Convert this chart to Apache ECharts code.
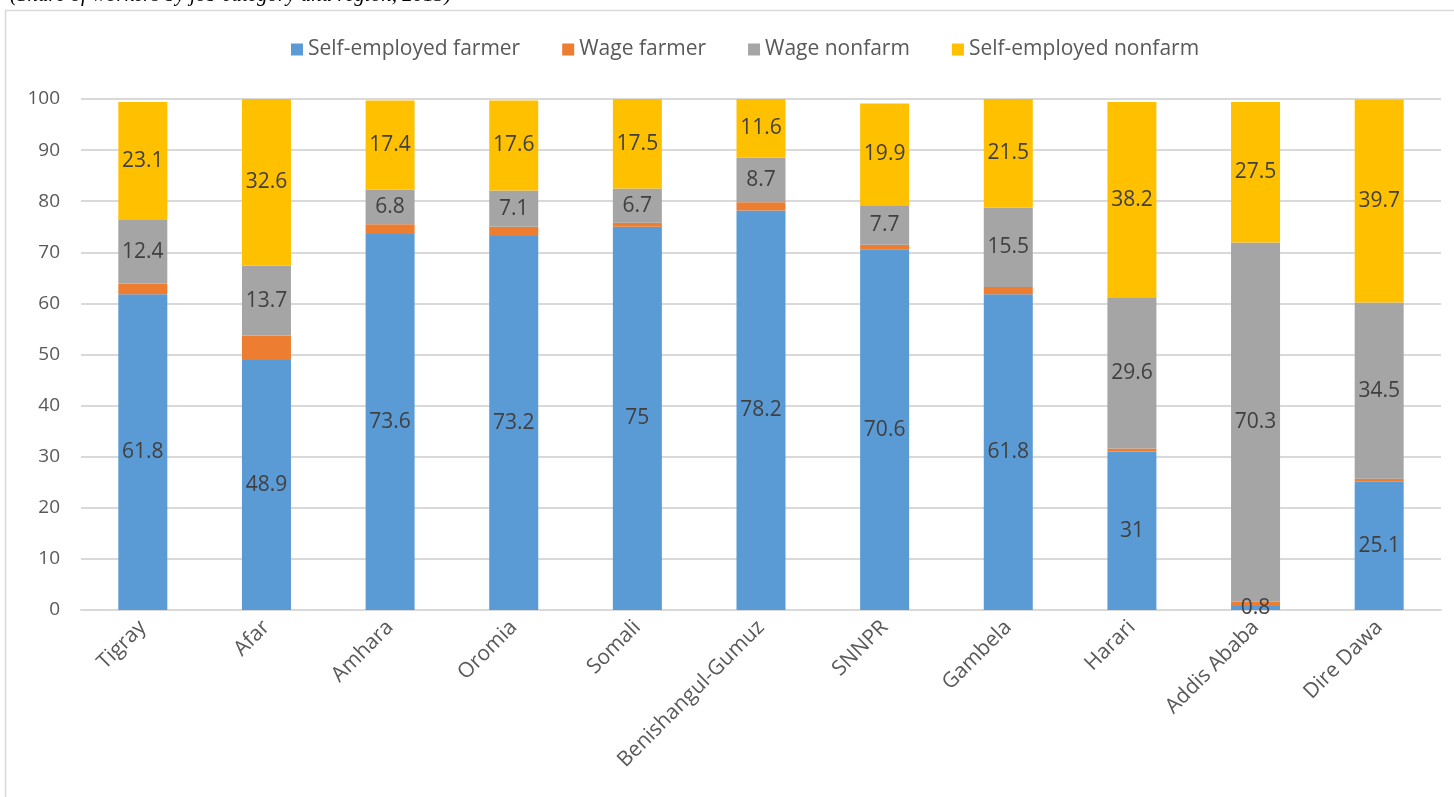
<!DOCTYPE html>
<html>
<head>
<meta charset="utf-8">
<script src="https://cdn.jsdelivr.net/npm/echarts@6/dist/echarts.min.js"></script>
<style>
  html, body { margin: 0; padding: 0; background: #ffffff; }
  #chart { width: 1454px; height: 797px; }
</style>
</head>
<body>
<div id="chart"></div>
<script>
// Share of workers by job category and region, 2015 (percent)
const regions = ['Tigray', 'Afar', 'Amhara', 'Oromia', 'Somali', 'Benishangul-Gumuz',
  'SNNPR', 'Gambela', 'Harari', 'Addis Ababa', 'Dire Dawa'];
const selfEmployedFarmer = [61.8, 48.9, 73.6, 73.2, 75, 78.2, 70.6, 61.8, 31, 0.8, 25.1];
const wageFarmer = [2.1, 4.8, 1.9, 1.8, 0.8, 1.6, 0.9, 1.4, 0.6, 0.8, 0.6];
const wageNonfarm = [12.4, 13.7, 6.8, 7.1, 6.7, 8.7, 7.7, 15.5, 29.6, 70.3, 34.5];
const selfEmployedNonfarm = [23.1, 32.6, 17.4, 17.6, 17.5, 11.6, 19.9, 21.5, 38.2, 27.5, 39.7];
const seriesNames = ['Self-employed farmer', 'Wage farmer', 'Wage nonfarm', 'Self-employed nonfarm'];
const yTicks = [0, 100, 10];

const FONT = '"Open Sans", "Noto Sans", sans-serif';
const colors = ['#5B9BD5', '#ED7D31', '#A5A5A5', '#FFC000'];

function barSeries(name, data, color, showLabel) {
  return {
    name: name,
    type: 'bar',
    stack: 'total',
    barWidth: 49,
    data: data,
    itemStyle: { color: color },
    label: {
      show: showLabel,
      position: 'inside',
      color: '#404040',
      fontFamily: FONT,
      fontSize: 21
    },
    emphasis: { disabled: true }
  };
}

const chart = echarts.init(document.getElementById('chart'), null, { renderer: 'canvas' });
chart.setOption({
  animation: false,
  backgroundColor: '#ffffff',
  color: colors,
  graphic: [
    {
      type: 'rect',
      shape: { x: 5.5, y: 10.5, width: 1460, height: 800 },
      style: { fill: 'none', stroke: '#d9d9d9', lineWidth: 1.5 },
      silent: true
    },
    {
      type: 'text',
      left: 10,
      top: -15,
      style: {
        text: '(Share of workers by job category and region, 2015)',
        font: 'italic 21px "Liberation Serif", serif',
        fill: '#000000'
      },
      silent: true
    }
  ],
  legend: {
    top: 34,
    left: 286,
    itemWidth: 12,
    itemHeight: 12,
    itemGap: 42,
    icon: 'rect',
    textStyle: { color: '#595959', fontFamily: FONT, fontSize: 21 },
    data: seriesNames
  },
  grid: { left: 81, right: 13, top: 99, bottom: 187, containLabel: false },
  xAxis: {
    type: 'category',
    data: regions,
    axisLine: { lineStyle: { color: '#d9d9d9', width: 2 } },
    axisTick: { show: false },
    axisLabel: {
      rotate: 45,
      interval: 0,
      margin: 14,
      color: '#595959',
      fontFamily: FONT,
      fontSize: 21
    }
  },
  yAxis: {
    type: 'value',
    min: yTicks[0],
    max: yTicks[1],
    interval: yTicks[2],
    axisLine: { show: false },
    axisTick: { show: false },
    axisLabel: { color: '#595959', fontFamily: FONT, fontSize: 19, margin: 21 },
    splitLine: { lineStyle: { color: '#d9d9d9', width: 2 } }
  },
  series: [
    barSeries(seriesNames[0], selfEmployedFarmer, colors[0], true),
    barSeries(seriesNames[1], wageFarmer, colors[1], false),
    barSeries(seriesNames[2], wageNonfarm, colors[2], true),
    barSeries(seriesNames[3], selfEmployedNonfarm, colors[3], true)
  ]
});
</script>
</body>
</html>
